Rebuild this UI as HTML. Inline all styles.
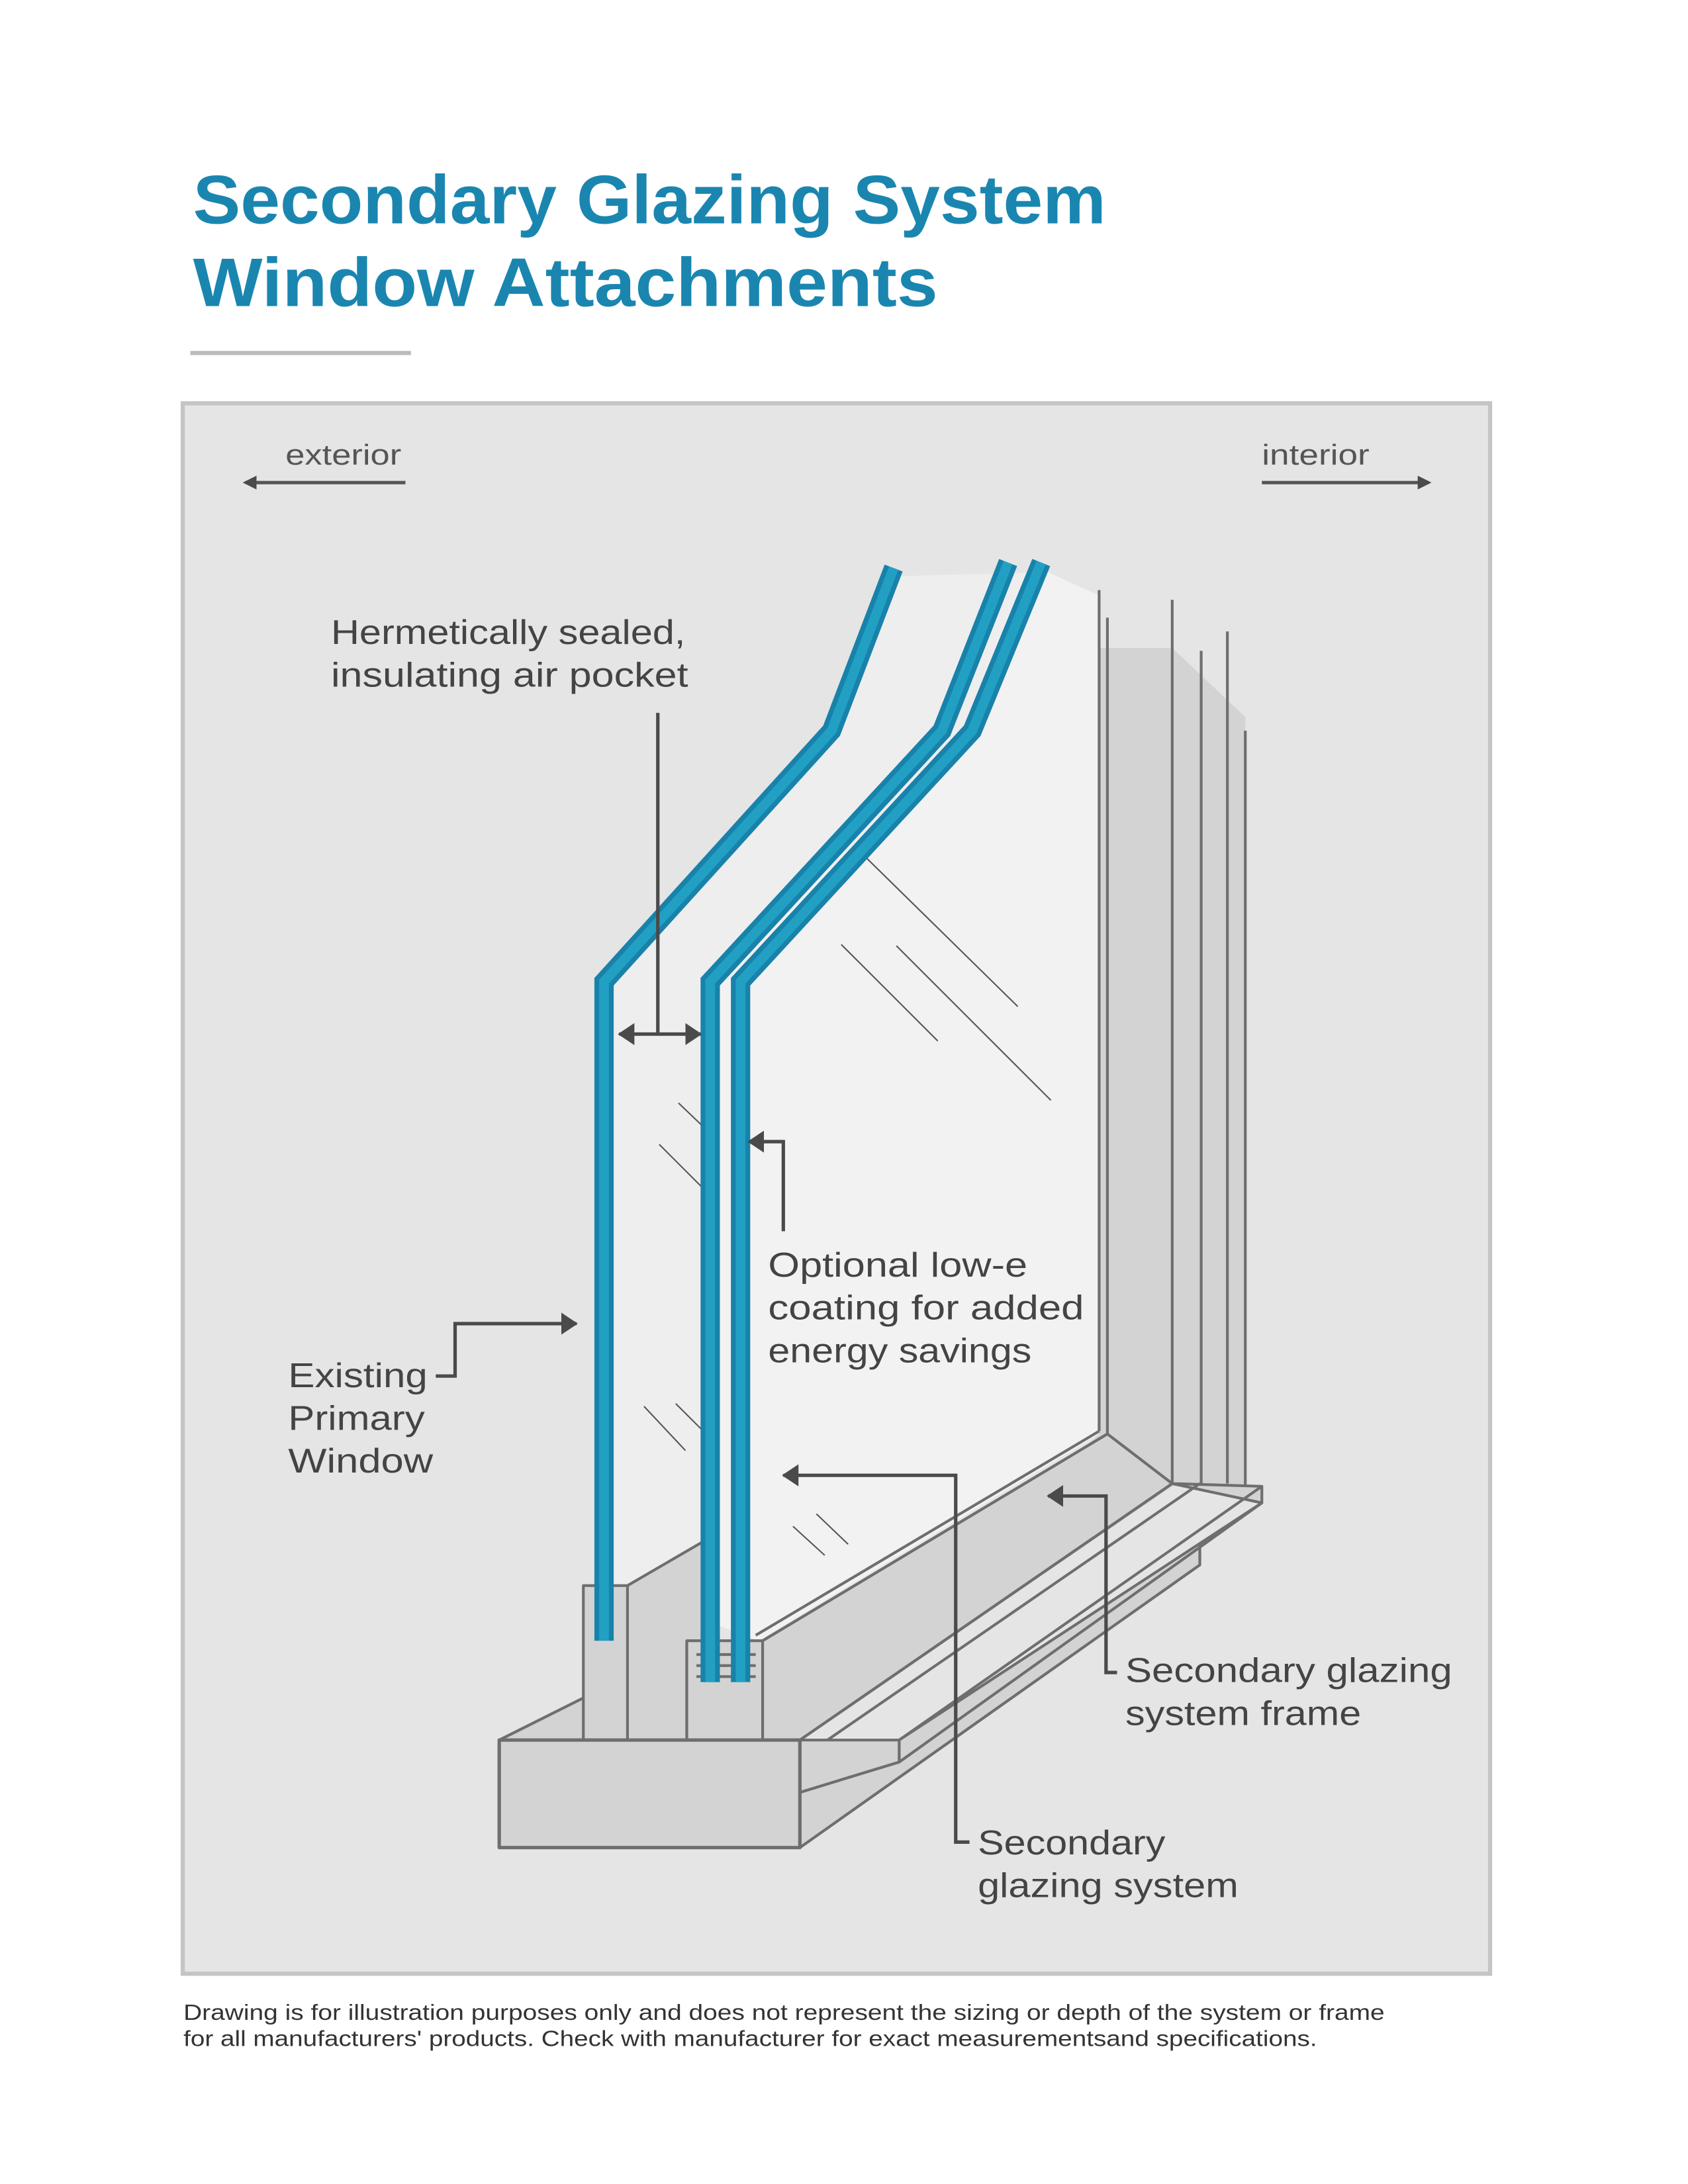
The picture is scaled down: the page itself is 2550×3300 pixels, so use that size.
<!DOCTYPE html>
<html><head><meta charset="utf-8"><style>
html,body{margin:0;padding:0;background:#fff;}
svg{display:block;}
text{font-family:"Liberation Sans",sans-serif;}
</style></head><body>
<svg width="2550" height="3300" viewBox="0 0 1224 1584" xmlns="http://www.w3.org/2000/svg">
<defs>
<marker id="ah" markerWidth="10" markerHeight="10" refX="8" refY="5" orient="auto" markerUnits="userSpaceOnUse">
<path d="M0,0 L10,5 L0,10 z" fill="#4a4a4a"/></marker>
<marker id="ahs" markerWidth="12" markerHeight="16" refX="11" refY="8" orient="auto" markerUnits="userSpaceOnUse">
<path d="M0,0 L12,8 L0,16 z" fill="#4a4a4a"/></marker>
<marker id="ahs2" markerWidth="12" markerHeight="16" refX="1" refY="8" orient="auto" markerUnits="userSpaceOnUse">
<path d="M12,0 L0,8 L12,16 z" fill="#4a4a4a"/></marker>
</defs>
<rect width="1224" height="1584" fill="#fff"/>
<text x="140" y="162" font-size="50" font-weight="bold" fill="#1a86b0" textLength="662" lengthAdjust="spacingAndGlyphs">Secondary Glazing System</text>
<text x="140" y="222" font-size="50" font-weight="bold" fill="#1a86b0" textLength="540" lengthAdjust="spacingAndGlyphs">Window Attachments</text>
<line x1="138" y1="256" x2="298" y2="256" stroke="#bbb" stroke-width="3"/>
<rect x="132.5" y="292.5" width="948" height="1139" fill="#e5e5e5" stroke="#c4c4c4" stroke-width="3"/>
<text x="207" y="337" font-size="21" fill="#555" textLength="84" lengthAdjust="spacingAndGlyphs">exterior</text>
<line x1="294" y1="350" x2="178" y2="350" stroke="#555" stroke-width="2.5" marker-end="url(#ah)"/>
<text x="915" y="337" font-size="21" fill="#555" textLength="78" lengthAdjust="spacingAndGlyphs">interior</text>
<line x1="915" y1="350" x2="1036" y2="350" stroke="#555" stroke-width="2.5" marker-end="url(#ah)"/>

<polygon points="797,470 850,470 903,520 903,1078 850,1078 580,1262 560,1262 797,1040" fill="#d3d3d3"/>
<polygon points="445,712 603,530 650,418 760,415 797,432 797,1040 550,1190 445,1150" fill="#f2f2f2"/>
<polygon points="445,712 603,530 650,418 760,415 700,530 520,712 515,1190 445,1150" fill="#eeeeee"/>
<g stroke="#6e6e6e" stroke-width="2" fill="none">
<line x1="797" y1="428" x2="797" y2="1038"/>
<line x1="803" y1="448" x2="803" y2="1040"/>
<line x1="850" y1="435" x2="850" y2="1076"/>
<line x1="871" y1="472" x2="871" y2="1076"/>
<line x1="890" y1="458" x2="890" y2="1076"/>
<line x1="903" y1="530" x2="903" y2="1078"/>
<polyline points="803,1040 553,1190"/>
<polyline points="797,1038 548,1186"/>
</g>
<g stroke="#6e6e6e" stroke-width="2" fill="#d3d3d3" stroke-linejoin="round">
<polygon points="850,1076 915,1078 915,1090 652,1262 652,1278 580,1300 580,1340 870,1135 870,1120 915,1090"/>
<polygon points="362,1262 422,1232 455,1230 510,1190 553,1190 803,1040 850,1076 580,1262"/>
<line x1="850" y1="1076" x2="580" y2="1262"/>
<line x1="915" y1="1078" x2="652" y2="1262"/>
<line x1="870" y1="1076" x2="600" y2="1262"/>
<polygon points="580,1262 652,1262 652,1278 580,1300"/>
<polygon points="580,1300 652,1278 915,1090 870,1120 870,1135 580,1340"/>
<polygon points="455,1150 510,1118 520,1118 520,1190 498,1190 498,1262 455,1262"/>
<rect x="423" y="1150" width="32" height="112"/>
<rect x="498" y="1190" width="55" height="72"/>
<rect x="362" y="1262" width="218" height="78" stroke-width="2.5"/>
<line x1="505" y1="1200" x2="548" y2="1200"/>
<line x1="505" y1="1208" x2="548" y2="1208"/>
<line x1="505" y1="1216" x2="548" y2="1216"/>
</g>
<g stroke="#555" stroke-width="1">
<line x1="628" y1="622" x2="738" y2="730"/><line x1="610" y1="685" x2="680" y2="755"/>
<line x1="650" y1="686" x2="762" y2="798"/><line x1="492" y1="800" x2="515" y2="822"/>
<line x1="478" y1="830" x2="510" y2="862"/><line x1="467" y1="1020" x2="497" y2="1052"/>
<line x1="490" y1="1018" x2="510" y2="1038"/><line x1="575" y1="1107" x2="598" y2="1128"/>
<line x1="592" y1="1098" x2="615" y2="1120"/>
</g>
<g fill="none" stroke-linejoin="miter">
<polyline points="438,1190 438,712 603,530 648,412" stroke="#1882aa" stroke-width="14"/>
<polyline points="438,1190 438,712 603,530 648,412" stroke="#22a0c4" stroke-width="7"/>
<polyline points="515,1220 515,712 683,530 731,408" stroke="#1882aa" stroke-width="14"/>
<polyline points="515,1220 515,712 683,530 731,408" stroke="#22a0c4" stroke-width="7"/>
<polyline points="537,1220 537,712 705,530 755,408" stroke="#1882aa" stroke-width="14"/>
<polyline points="537,1220 537,712 705,530 755,408" stroke="#22a0c4" stroke-width="7"/>
</g>
<g stroke="#4a4a4a" stroke-width="2.5" fill="none">
<line x1="477" y1="517" x2="477" y2="750"/>
<line x1="449" y1="750" x2="508" y2="750" marker-end="url(#ahs)" marker-start="url(#ahs2)"/>
<polyline points="568,893 568,828 543,828" marker-end="url(#ahs)"/>
<polyline points="316,998 330,998 330,960 418,960" marker-end="url(#ahs)"/>
<polyline points="810,1213 802,1213 802,1085 760,1085" marker-end="url(#ahs)"/>
<polyline points="703,1336 693,1336 693,1070 568,1070" marker-end="url(#ahs)"/>
</g>
<g font-size="25" fill="#444" lengthAdjust="spacingAndGlyphs">
<text x="240" y="467" textLength="257" lengthAdjust="spacingAndGlyphs">Hermetically sealed,</text>
<text x="240" y="498" textLength="259" lengthAdjust="spacingAndGlyphs">insulating air pocket</text>
<text x="557" y="926" textLength="188" lengthAdjust="spacingAndGlyphs">Optional low-e</text>
<text x="557" y="957" textLength="229" lengthAdjust="spacingAndGlyphs">coating for added</text>
<text x="557" y="988" textLength="191" lengthAdjust="spacingAndGlyphs">energy savings</text>
<text x="209" y="1006" textLength="101" lengthAdjust="spacingAndGlyphs">Existing</text>
<text x="209" y="1037" textLength="99" lengthAdjust="spacingAndGlyphs">Primary</text>
<text x="209" y="1068" textLength="105" lengthAdjust="spacingAndGlyphs">Window</text>
<text x="816" y="1220" textLength="237" lengthAdjust="spacingAndGlyphs">Secondary glazing</text>
<text x="816" y="1251" textLength="171" lengthAdjust="spacingAndGlyphs">system frame</text>
<text x="709" y="1345" textLength="136" lengthAdjust="spacingAndGlyphs">Secondary</text>
<text x="709" y="1376" textLength="189" lengthAdjust="spacingAndGlyphs">glazing system</text>
</g>
<text x="133" y="1465" font-size="16" fill="#333" textLength="871" lengthAdjust="spacingAndGlyphs">Drawing is for illustration purposes only and does not represent the sizing or depth of the system or frame</text>
<text x="133" y="1484" font-size="16" fill="#333" textLength="822" lengthAdjust="spacingAndGlyphs">for all manufacturers' products. Check with manufacturer for exact measurementsand specifications.</text>
</svg>
</body></html>
